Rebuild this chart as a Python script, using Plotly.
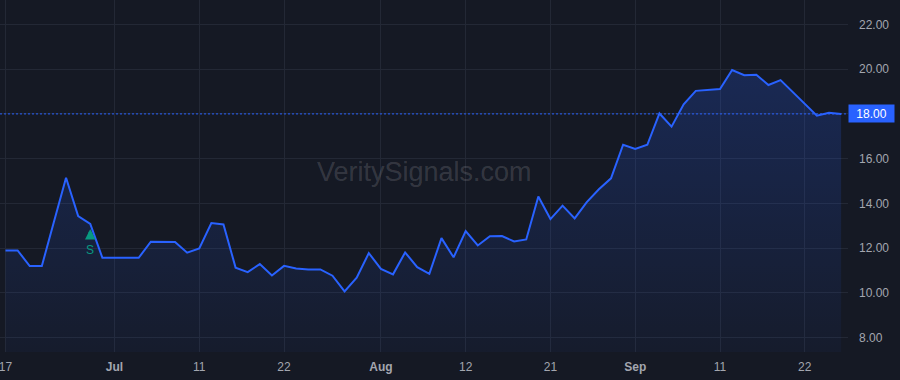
import plotly.graph_objects as go

# ---- data (trading days, 2025) ----
dates = [
    "2025-06-17", "2025-06-18", "2025-06-20", "2025-06-23", "2025-06-24", "2025-06-25", "2025-06-26", "2025-06-27", "2025-06-30",
    "2025-07-01", "2025-07-02", "2025-07-03", "2025-07-07", "2025-07-08", "2025-07-09", "2025-07-10", "2025-07-11",
    "2025-07-14", "2025-07-15", "2025-07-16", "2025-07-17", "2025-07-18", "2025-07-21", "2025-07-22", "2025-07-23",
    "2025-07-24", "2025-07-25", "2025-07-28", "2025-07-29", "2025-07-30", "2025-07-31",
    "2025-08-01", "2025-08-04", "2025-08-05", "2025-08-06", "2025-08-07", "2025-08-08", "2025-08-11", "2025-08-12",
    "2025-08-13", "2025-08-14", "2025-08-15", "2025-08-18", "2025-08-19", "2025-08-20", "2025-08-21", "2025-08-22",
    "2025-08-25", "2025-08-26", "2025-08-27", "2025-08-28", "2025-08-29",
    "2025-09-02", "2025-09-03", "2025-09-04", "2025-09-05", "2025-09-08", "2025-09-09", "2025-09-10", "2025-09-11",
    "2025-09-12", "2025-09-15", "2025-09-16", "2025-09-17", "2025-09-18", "2025-09-19", "2025-09-22", "2025-09-23",
    "2025-09-24", "2025-09-25",
]
prices = [
    11.90, 11.90, 11.20, 11.20, 13.18, 15.15, 13.43, 13.08, 11.57,
    11.57, 11.57, 11.57, 12.29, 12.29, 12.28, 11.80, 11.99,
    13.12, 13.06, 11.13, 10.93, 11.29, 10.78, 11.21, 11.09,
    11.05, 11.05, 10.77, 10.07, 10.68, 11.78,
    11.07, 10.83, 11.81, 11.15, 10.85, 12.45, 11.59, 12.76,
    12.12, 12.53, 12.54, 12.30, 12.39, 14.31, 13.30, 13.90,
    13.33, 14.06, 14.63, 15.12, 16.62,
    16.43, 16.62, 18.02, 17.43, 18.43, 19.03, 19.06, 19.11,
    19.96, 19.73, 19.75, 19.29, 19.51, 18.98, 18.46, 17.92,
    18.05, 18.00,
]
tick_dates = ["2025-06-17", "2025-07-01", "2025-07-11", "2025-07-22", "2025-08-01",
              "2025-08-12", "2025-08-21", "2025-09-02", "2025-09-11", "2025-09-22"]
tick_text = ["17", "<b>Jul</b>", "11", "22", "<b>Aug</b>", "12", "21", "<b>Sep</b>", "11", "22"]
y_ticks = [8, 10, 12, 14, 16, 18, 20, 22]
signal_dates = ["2025-06-27"]
signal_labels = ["S"]
watermark = "VeritySignals.com"

# ---- style ----
BG = "#151924"
GRID = "#232835"
LINE = "#2962ff"
TXT = "#a3a6af"
SIG = "#089981"
FONT = "Liberation Sans, Arial, sans-serif"

last = prices[-1]
# the last-price tag replaces the axis label at the same level
y_ticktext = ["" if abs(v - last) < 0.5 else f"{v:.2f}" for v in y_ticks]

fig = go.Figure()
fig.add_trace(go.Scatter(
    x=dates, y=prices, mode="lines",
    line=dict(color=LINE, width=2),
    fill="tozeroy",
    fillgradient=dict(type="vertical",
                      colorscale=[[0, "rgba(41,98,255,0.04)"], [1, "rgba(41,98,255,0.22)"]],
                      start=7.4, stop=20.0),
    hoverinfo="skip",
))

annotations = [
    dict(xref="paper", yref="paper", x=0.501, y=0.511, text=watermark, showarrow=False,
         font=dict(family=FONT, size=27, color="rgba(255,255,255,0.15)")),
    dict(xref="paper", yref="y", x=1, xanchor="left", y=last, yanchor="middle",
         text=f"{last:.2f}", showarrow=False, bgcolor=LINE, width=45, height=17,
         borderpad=0, font=dict(family=FONT, size=12, color="#ffffff")),
]
for d, lab in zip(signal_dates, signal_labels):
    p = prices[dates.index(d)]
    annotations.append(dict(x=d, y=p, xref="x", yref="y", text="", showarrow=True,
                            ax=0, ay=14, arrowhead=2, arrowsize=0.6, arrowwidth=3.5,
                            arrowcolor=SIG, standoff=5))
    annotations.append(dict(x=d, y=p, xref="x", yref="y", text=lab, showarrow=False,
                            yshift=-26, font=dict(family=FONT, size=12, color=SIG)))

fig.update_layout(
    width=900, height=380,
    margin=dict(l=0, r=52, t=0, b=28),
    paper_bgcolor=BG, plot_bgcolor=BG,
    showlegend=False,
    font=dict(family=FONT, size=12, color=TXT),
    annotations=annotations,
    shapes=[dict(type="line", xref="paper", x0=0, x1=1, yref="y", y0=last, y1=last,
                 line=dict(color=LINE, width=1, dash="2px,2px"), layer="above")],
    xaxis=dict(type="category", range=[-0.454, 69.57], tickmode="array",
               tickvals=tick_dates, ticktext=tick_text, showgrid=True, gridcolor=GRID,
               gridwidth=1, zeroline=False, showline=False, ticks="",
               tickfont=dict(family=FONT, size=12, color=TXT), ticklabelstandoff=6),
    yaxis=dict(side="right", range=[7.36, 23.09], tickmode="array", tickvals=y_ticks,
               ticktext=y_ticktext, showgrid=True, gridcolor=GRID, gridwidth=1,
               zeroline=False, showline=False, ticks="",
               tickfont=dict(family=FONT, size=12, color=TXT), ticklabelstandoff=10),
)

fig.write_html("out.html")
